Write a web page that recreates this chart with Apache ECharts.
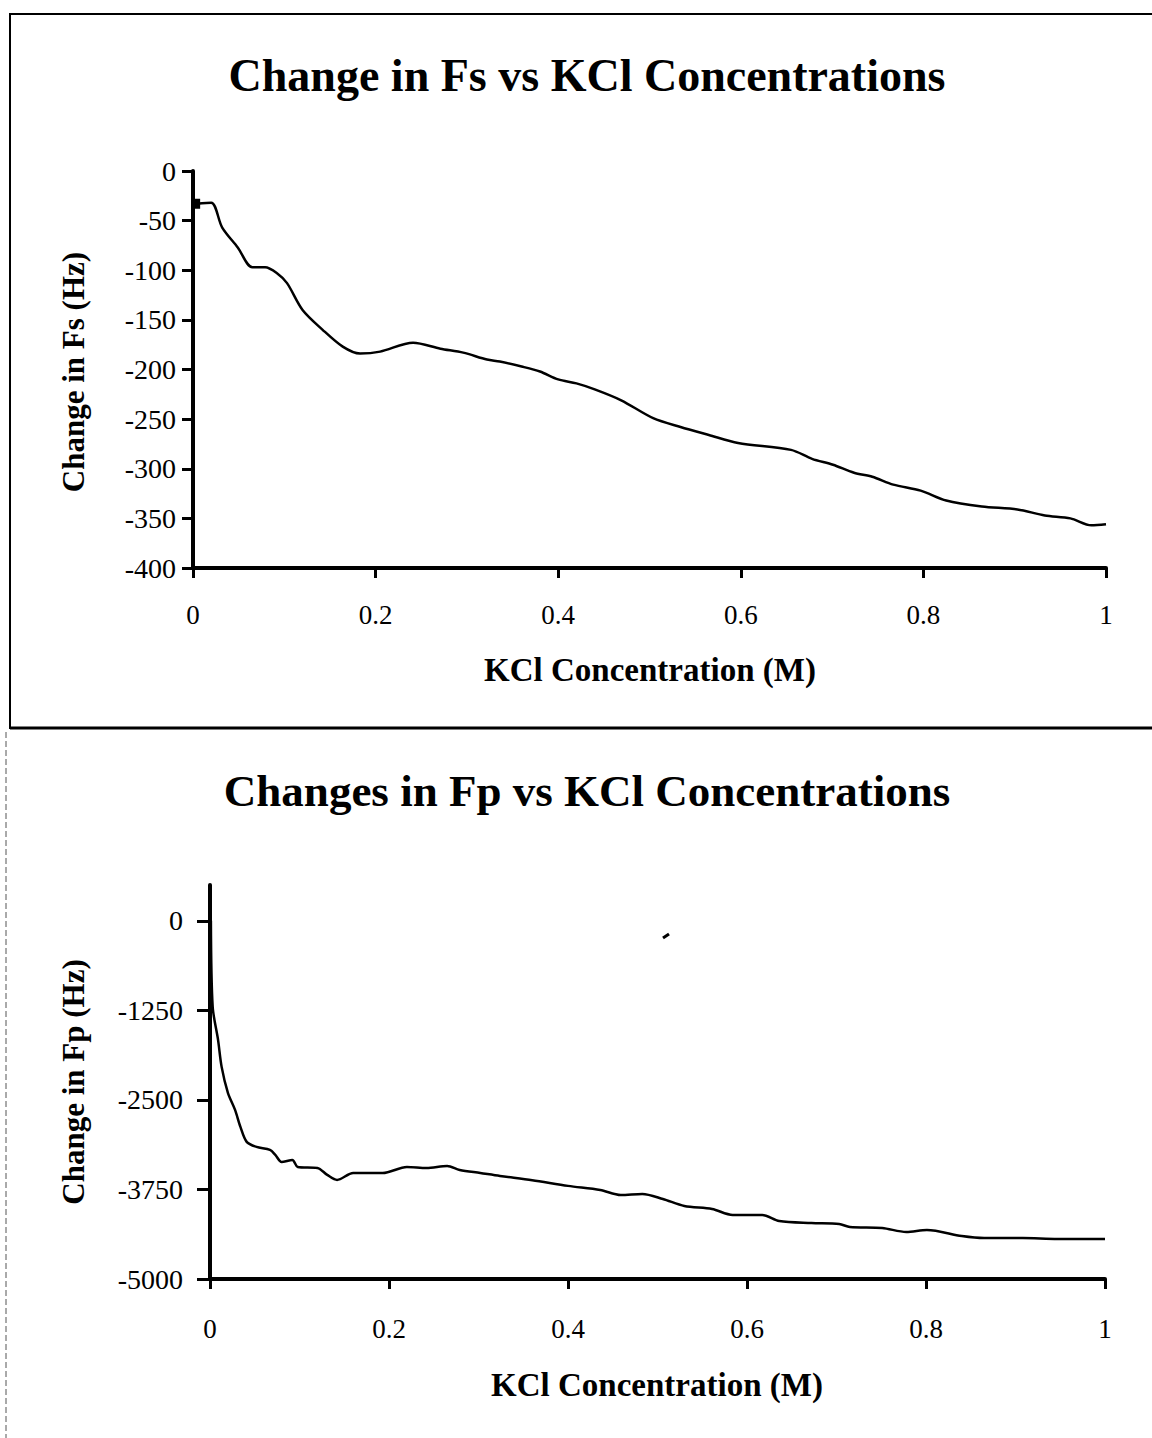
<!DOCTYPE html>
<html>
<head>
<meta charset="utf-8">
<script src="https://cdn.jsdelivr.net/npm/echarts@6/dist/echarts.min.js"></script>
<style>
  html, body { margin: 0; padding: 0; background: #fff; }
  #chart { width: 1152px; height: 1438px; }
</style>
</head>
<body>
<div id="chart"></div>
<script>
// ---- Data ----
const fsX = [0.004, 0.02, 0.032, 0.049, 0.065, 0.079, 0.092, 0.103, 0.12, 0.142, 0.164, 0.183, 0.205, 0.241, 0.271, 0.296, 0.322, 0.336, 0.36, 0.38, 0.4, 0.42, 0.44, 0.469, 0.504, 0.534, 0.565, 0.597, 0.655, 0.678, 0.701, 0.724, 0.744, 0.767, 0.797, 0.825, 0.864, 0.903, 0.933, 0.961, 0.984, 1.0];
const fsY = [-33, -32, -57, -77, -97, -97, -103, -113, -140, -160, -177, -184, -182, -173, -179, -183, -190, -192, -197, -202, -210, -214, -220, -231, -249, -258, -266, -274, -281, -290, -296, -304, -308, -316, -322, -332, -338, -341, -347, -350, -357, -356];

const fpX = [0.001, 0.003, 0.009, 0.013, 0.020, 0.028, 0.034, 0.041, 0.052, 0.067, 0.073, 0.080, 0.092, 0.098, 0.120, 0.131, 0.142, 0.160, 0.193, 0.220, 0.242, 0.265, 0.279, 0.302, 0.324, 0.36, 0.40, 0.436, 0.459, 0.483, 0.506, 0.530, 0.561, 0.584, 0.617, 0.636, 0.672, 0.703, 0.715, 0.751, 0.778, 0.801, 0.840, 0.865, 0.908, 0.947, 1.0];
const fpY = [0, -1200, -1662, -2039, -2402, -2640, -2877, -3086, -3156, -3198, -3268, -3366, -3338, -3436, -3450, -3547, -3617, -3520, -3520, -3436, -3450, -3422, -3478, -3520, -3561, -3620, -3700, -3757, -3827, -3813, -3883, -3980, -4022, -4106, -4106, -4190, -4218, -4232, -4274, -4288, -4344, -4316, -4400, -4428, -4428, -4441, -4441];

const fsTicks = [0, -50, -100, -150, -200, -250, -300, -350, -400];
const fpTicks = [0, -1250, -2500, -3750, -5000];
const xTicks = [0, 0.2, 0.4, 0.6, 0.8, 1];

const titleTop = 'Change in Fs vs KCl Concentrations';
const titleBottom = 'Changes in Fp vs KCl Concentrations';
const xName = 'KCl Concentration (M)';
const yNameTop = 'Change in Fs (Hz)';
const yNameBottom = 'Change in Fp (Hz)';

// ---- Chart ----
const SERIF = '"Liberation Serif", "DejaVu Serif", serif';
const chart = echarts.init(document.getElementById('chart'), null, { renderer: 'svg' });

function xAxisCfg(gridIndex, margin) {
  return {
    type: 'value', gridIndex: gridIndex, min: 0, max: 1, interval: 0.2,
    axisLine: { onZero: false, lineStyle: { color: '#000', width: 4 } },
    axisTick: { length: 10, lineStyle: { color: '#000', width: 3 }, customValues: xTicks },
    axisLabel: { customValues: xTicks, margin: margin, color: '#000', fontFamily: SERIF, fontSize: 27,
                 formatter: v => String(Math.round(v * 10) / 10) },
    splitLine: { show: false }
  };
}
function yAxisCfg(gridIndex, min, max, ticks, margin, tickLen) {
  return {
    type: 'value', gridIndex: gridIndex, min: min, max: max,
    axisLine: { onZero: false, lineStyle: { color: '#000', width: 4 } },
    axisTick: { length: tickLen, lineStyle: { color: '#000', width: 3 }, customValues: ticks },
    axisLabel: { customValues: ticks, margin: margin, color: '#000', fontFamily: SERIF, fontSize: 28,
                 formatter: v => String(v) },
    splitLine: { show: false }
  };
}

const fsData = fsX.map((x, i) => [x, fsY[i]]);
fsData[0] = { value: fsData[0], symbol: 'rect', symbolSize: [7, 10], itemStyle: { color: '#000' } };

const option = {
  backgroundColor: '#fff',
  animation: false,
  grid: [
    { left: 193, top: 171, width: 913, height: 397 },
    { left: 210, top: 885, width: 895, height: 394 }
  ],
  xAxis: [xAxisCfg(0, 33), xAxisCfg(1, 36)],
  yAxis: [yAxisCfg(0, -400, 0, fsTicks, 17, 11), yAxisCfg(1, -5000, 500, fpTicks, 27, 13)],
  series: [
    {
      type: 'line', xAxisIndex: 0, yAxisIndex: 0,
      data: fsData,
      symbol: 'none', smooth: 0.3,
      lineStyle: { color: '#000', width: 2.5 }
    },
    {
      type: 'line', xAxisIndex: 1, yAxisIndex: 1,
      data: fpX.map((x, i) => [x, fpY[i]]),
      showSymbol: false, smooth: 0.3,
      lineStyle: { color: '#000', width: 2.5 }
    }
  ],
  graphic: [
    // panel frame of the upper chart
    { type: 'rect', silent: true, shape: { x: 10, y: 14, width: 1160, height: 714 },
      style: { fill: 'none', stroke: '#000', lineWidth: 2 } },
    { type: 'line', silent: true, shape: { x1: 10, y1: 728, x2: 1152, y2: 728 },
      style: { stroke: '#000', lineWidth: 3 } },
    // dashed left edge of the lower panel
    { type: 'line', silent: true, shape: { x1: 6, y1: 732, x2: 6, y2: 1438 },
      style: { stroke: '#555', lineWidth: 1, lineDash: [6, 3] } },
    // small scan speck in the lower panel
    { type: 'line', silent: true, shape: { x1: 663, y1: 938, x2: 669, y2: 934 },
      style: { stroke: '#000', lineWidth: 3 } },
    // titles
    { type: 'text', silent: true, x: 587, y: 75,
      style: { text: titleTop, font: 'bold 46px ' + SERIF, fill: '#000', textAlign: 'center', textVerticalAlign: 'middle' } },
    { type: 'text', silent: true, x: 587, y: 791,
      style: { text: titleBottom, font: 'bold 45px ' + SERIF, fill: '#000', textAlign: 'center', textVerticalAlign: 'middle' } },
    // x axis titles
    { type: 'text', silent: true, x: 650, y: 670,
      style: { text: xName, font: 'bold 33px ' + SERIF, fill: '#000', textAlign: 'center', textVerticalAlign: 'middle' } },
    { type: 'text', silent: true, x: 657, y: 1385,
      style: { text: xName, font: 'bold 33px ' + SERIF, fill: '#000', textAlign: 'center', textVerticalAlign: 'middle' } },
    // y axis titles
    { type: 'text', silent: true, x: 73, y: 372, rotation: Math.PI / 2,
      style: { text: yNameTop, font: 'bold 31px ' + SERIF, fill: '#000', textAlign: 'center', textVerticalAlign: 'middle' } },
    { type: 'text', silent: true, x: 73, y: 1082, rotation: Math.PI / 2,
      style: { text: yNameBottom, font: 'bold 31px ' + SERIF, fill: '#000', textAlign: 'center', textVerticalAlign: 'middle' } }
  ]
};
chart.setOption(option);
</script>
</body>
</html>
